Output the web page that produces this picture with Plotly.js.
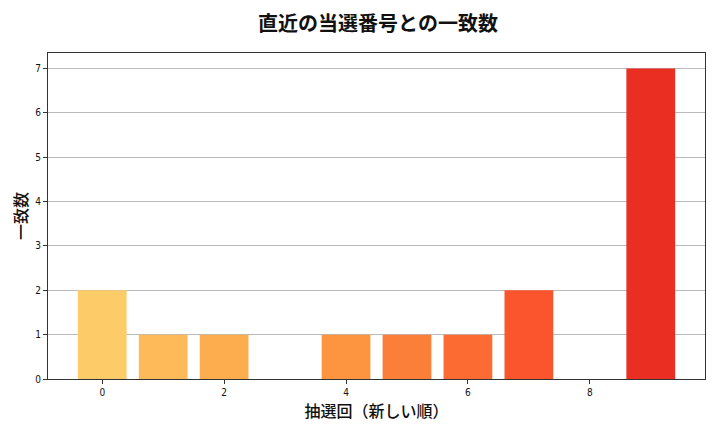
<!DOCTYPE html>
<html>
<head>
<meta charset="utf-8">
<script src="https://cdn.plot.ly/plotly-3.0.1.min.js"></script>
<style>
  body { margin: 0; }
  #chart { width: 720px; height: 432px; }
</style>
</head>
<body>
<div id="chart"></div>
<script>
// draws, newest first
const drawIndex = [0, 1, 2, 3, 4, 5, 6, 7, 8, 9];
const matchCount = [2, 1, 1, 0, 1, 1, 1, 2, 0, 7];
const barColors = [
    '#FECB69', '#FEBA58', '#FDAD4D', '#FDA046', '#FD9540',
    '#FC7F39', '#FC6B32', '#FA552C', '#F14228', '#EA2E22'
];
const xTicks = [0, 2, 4, 6, 8];
const yTicks = [0, 1, 2, 3, 4, 5, 6, 7];

const jpFont = 'Noto Sans CJK JP, sans-serif';

const trace = {
    type: 'bar',
    x: drawIndex,
    y: matchCount,
    width: 0.8,
    marker: { color: barColors, line: { width: 0 } },
    hoverinfo: 'x+y'
};

const layout = {
    width: 720,
    height: 432,
    margin: { l: 48, r: 15, t: 53, b: 53 },
    paper_bgcolor: 'white',
    plot_bgcolor: 'white',
    showlegend: false,
    title: {
        text: '<b>直近の当選番号との一致数</b>',
        font: { family: jpFont, size: 20, color: '#111' },
        x: 0.525,
        xanchor: 'center',
        y: 0.945,
        yanchor: 'middle'
    },
    xaxis: {
        range: [-0.89, 9.89],
        tickvals: xTicks,
        ticks: 'outside',
        ticklen: 4,
        tickcolor: '#333',
        tickfont: { family: 'DejaVu Sans Condensed, DejaVu Sans', size: 10, color: '#111' },
        showgrid: false,
        zeroline: false,
        showline: true,
        mirror: true,
        linecolor: '#333',
        linewidth: 1,
        title: {
            text: '抽選回（新しい順）',
            font: { family: jpFont, size: 16, color: '#111', weight: 500 },
            standoff: 6
        }
    },
    yaxis: {
        range: [0, 7.35],
        tickvals: yTicks,
        ticks: 'outside',
        ticklen: 4,
        tickcolor: '#333',
        tickfont: { family: 'DejaVu Sans Condensed, DejaVu Sans', size: 10, color: '#111' },
        showgrid: true,
        gridcolor: '#bbbbbb',
        gridwidth: 1,
        zeroline: false,
        showline: true,
        mirror: true,
        linecolor: '#333',
        linewidth: 1,
        title: {
            text: '一致数',
            font: { family: jpFont, size: 16, color: '#111', weight: 500 },
            standoff: 3
        }
    },
    bargap: 0.2
};

Plotly.newPlot('chart', [trace], layout, { displayModeBar: false, staticPlot: true });
</script>
</body>
</html>
